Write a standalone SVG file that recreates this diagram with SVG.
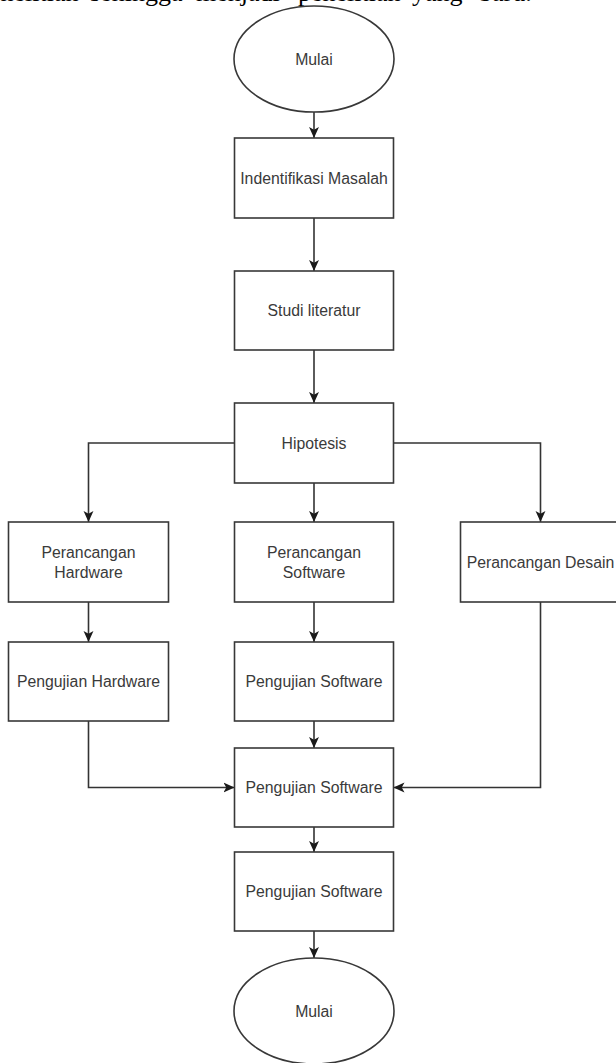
<svg xmlns="http://www.w3.org/2000/svg" width="616" height="1063" viewBox="0 0 616 1063">
<defs>
<style>
.shape{fill:#fff;stroke:#383838;stroke-width:1.6}
.lbl{font-family:"Liberation Sans",Arial,sans-serif;font-size:15.8px;fill:#3a3a3a;text-anchor:middle}
.conn{fill:none;stroke:#333;stroke-width:1.6;marker-end:url(#arr)}
.doc{font-family:"Liberation Serif","Times New Roman",serif;font-size:26px;fill:#000}
</style>
<marker id="arr" viewBox="0 0 10 10" refX="10" refY="5" markerWidth="11" markerHeight="11" markerUnits="userSpaceOnUse" orient="auto"><path d="M0,0.5 L10,5 L0,9.5 L2.5,5 Z" fill="#1a1a1a"/></marker>
</defs>
<rect width="616" height="1063" fill="#fff"/>
<text class="doc" y="0.5"><tspan x="-24">penelitian</tspan><tspan x="90">sehingga</tspan><tspan x="196">menjadi</tspan><tspan x="298">penelitian</tspan><tspan x="412">yang</tspan><tspan x="479">baru.</tspan></text>

<g id="connectors">
<path class="conn" d="M314,112 V138"/>
<path class="conn" d="M314,218 V271"/>
<path class="conn" d="M314,350 V403"/>
<path class="conn" d="M234.5,443 H88.5 V522"/>
<path class="conn" d="M393.5,443 H540.5 V522"/>
<path class="conn" d="M314,483 V522"/>
<path class="conn" d="M88.5,602 V642"/>
<path class="conn" d="M314,602 V642"/>
<path class="conn" d="M88.5,721 V787.5 H234.5"/>
<path class="conn" d="M314,721 V748"/>
<path class="conn" d="M540.5,602 V787.5 H393.5"/>
<path class="conn" d="M314,827 V852"/>
<path class="conn" d="M314,931 V958"/>
</g>

<g id="start"><ellipse class="shape" cx="314" cy="59" rx="80" ry="53"/><text class="lbl" x="314" y="64.5">Mulai</text></g>
<g id="identifikasi"><rect class="shape" x="234.5" y="138" width="159" height="80"/><text class="lbl" x="314" y="183.5">Indentifikasi Masalah</text></g>
<g id="studi"><rect class="shape" x="234.5" y="271" width="159" height="79"/><text class="lbl" x="314" y="316">Studi literatur</text></g>
<g id="hipotesis"><rect class="shape" x="234.5" y="403" width="159" height="80"/><text class="lbl" x="314" y="448.5">Hipotesis</text></g>
<g id="perancangan-hardware"><rect class="shape" x="8.5" y="522" width="160" height="80"/><text class="lbl" x="88.5" y="558">Perancangan</text><text class="lbl" x="88.5" y="578">Hardware</text></g>
<g id="perancangan-software"><rect class="shape" x="234.5" y="522" width="159" height="80"/><text class="lbl" x="314" y="558">Perancangan</text><text class="lbl" x="314" y="578">Software</text></g>
<g id="perancangan-desain"><rect class="shape" x="460.5" y="522" width="160" height="80"/><text class="lbl" x="540.5" y="567.5">Perancangan Desain</text></g>
<g id="pengujian-hardware"><rect class="shape" x="8.5" y="642" width="160" height="79"/><text class="lbl" x="88.5" y="687">Pengujian Hardware</text></g>
<g id="pengujian-software-1"><rect class="shape" x="234.5" y="642" width="159" height="79"/><text class="lbl" x="314" y="687">Pengujian Software</text></g>
<g id="pengujian-software-2"><rect class="shape" x="234.5" y="748" width="159" height="79"/><text class="lbl" x="314" y="793">Pengujian Software</text></g>
<g id="pengujian-software-3"><rect class="shape" x="234.5" y="852" width="159" height="79"/><text class="lbl" x="314" y="897">Pengujian Software</text></g>
<g id="end"><ellipse class="shape" cx="314" cy="1011" rx="80" ry="53"/><text class="lbl" x="314" y="1016.5">Mulai</text></g>
</svg>
